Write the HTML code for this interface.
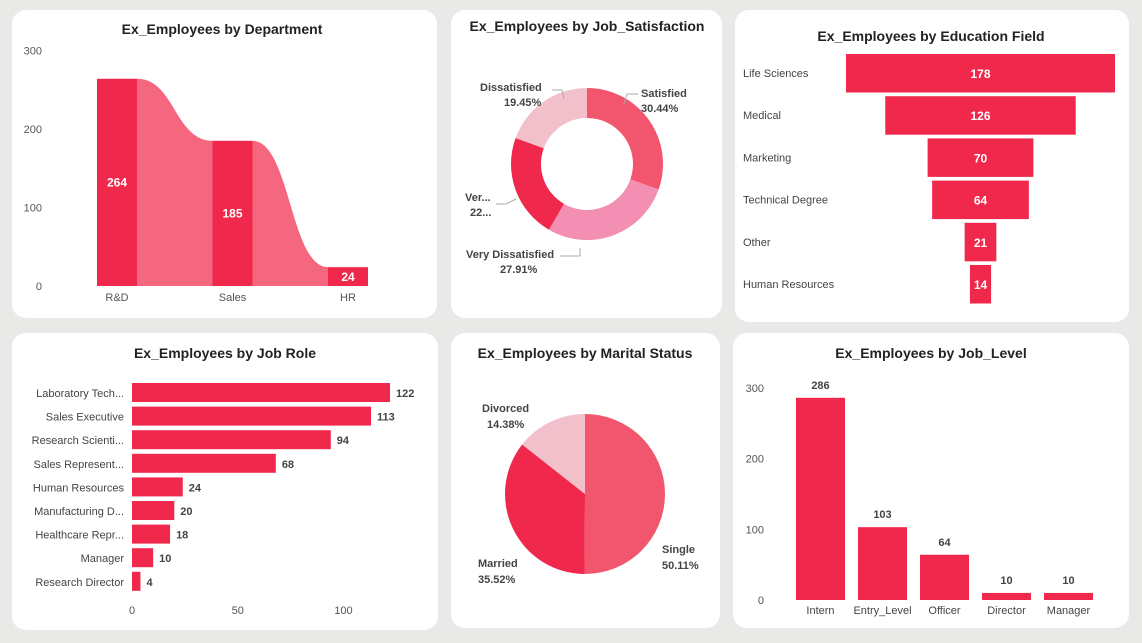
<!DOCTYPE html>
<html><head><meta charset="utf-8"><style>
html,body{margin:0;padding:0;width:1142px;height:643px;overflow:hidden;background:#e9e9e7;}
svg text{font-family:"Liberation Sans",sans-serif;}
.t{font-weight:bold;font-size:14px;fill:#222;text-anchor:middle}
.ax{font-size:11px;fill:#555}
.lb{font-size:11px;fill:#444}
.v{font-size:11px;font-weight:bold;fill:#444}
.w{font-size:12px;font-weight:bold;fill:#fff;text-anchor:middle}
</style></head><body>
<svg id="s" width="1142" height="643" xmlns="http://www.w3.org/2000/svg">
<rect width="1142" height="643" fill="#e9e9e7"/>
<g>
<rect x="12" y="10" width="425" height="308" rx="14" fill="#fff"/>
<rect x="451" y="10" width="271" height="308" rx="14" fill="#fff"/>
<rect x="735" y="10" width="394" height="312" rx="14" fill="#fff"/>
<rect x="12" y="333" width="426" height="297" rx="14" fill="#fff"/>
<rect x="451" y="333" width="269" height="295" rx="14" fill="#fff"/>
<rect x="733" y="333" width="396" height="295" rx="14" fill="#fff"/>
</g>
<text class="t" x="222" y="34">Ex_Employees by Department</text>
<text class="t" x="587" y="31">Ex_Employees by Job_Satisfaction</text>
<text class="t" x="931" y="41">Ex_Employees by Education Field</text>
<text class="t" x="225" y="358">Ex_Employees by Job Role</text>
<text class="t" x="585" y="358">Ex_Employees by Marital Status</text>
<text class="t" x="931" y="358">Ex_Employees by Job_Level</text>
<g id="g"></g>
</svg>
<script>
const deptCats=["R&D","Sales","HR"];
const deptVals=[264,185,24];
const deptTicks=[0,100,200,300];
const satCats=["Satisfied","Very Dissatisfied","Very Satisfied","Dissatisfied"];
const satVals=[30.44,27.91,22.20,19.45];
const eduCats=["Life Sciences","Medical","Marketing","Technical Degree","Other","Human Resources"];
const eduVals=[178,126,70,64,21,14];
const roleCats=["Laboratory Tech...","Sales Executive","Research Scienti...","Sales Represent...","Human Resources","Manufacturing D...","Healthcare Repr...","Manager","Research Director"];
const roleVals=[122,113,94,68,24,20,18,10,4];
const roleTicks=[0,50,100];
const marCats=["Single","Married","Divorced"];
const marVals=[50.11,35.52,14.38];
const lvlCats=["Intern","Entry_Level","Officer","Director","Manager"];
const lvlVals=[286,103,64,10,10];
const lvlTicks=[0,100,200,300];

const NS="http://www.w3.org/2000/svg",G=document.getElementById('g');
function el(t,a,txt){const e=document.createElementNS(NS,t);for(const k in a)e.setAttribute(k,a[k]);if(txt!==undefined)e.textContent=txt;G.appendChild(e);return e;}
const RED="#f0284c";

// Department
const dy=v=>286-v*0.785, dx=i=>97+i*115.5;
deptTicks.forEach(t=>{const e=el('text',{class:'ax',x:42,y:dy(t)+4,'text-anchor':'end'},t);

});
for(let i=0;i<deptVals.length-1;i++){const x1=dx(i)+40,x2=dx(i+1),y1=dy(deptVals[i]),y2=dy(deptVals[i+1]),m=(x1+x2)/2;
const e=el('path',{d:`M${x1},${y1} C${m},${y1} ${m},${y2} ${x2},${y2} L${x2},286 L${x1},286Z`,fill:'#f4677f'});

}
deptVals.forEach((v,i)=>{const b=el('rect',{x:dx(i),y:dy(v),width:40,height:v*0.785,fill:RED});


const vy=v>60?(dy(v)+286)/2+4:dy(v)+14;
const t=el('text',{class:'w',x:dx(i)+20,y:vy},v);


const l=el('text',{class:'ax',x:dx(i)+20,y:301,'text-anchor':'middle'},deptCats[i]);

});

function arc(cx,cy,r,ri,a0,a1){const p=(a,rr)=>[cx+rr*Math.sin(a),cy-rr*Math.cos(a)];const lg=(a1-a0)>Math.PI?1:0;
const [x0,y0]=p(a0,r),[x1,y1]=p(a1,r);
if(ri>0){const [x2,y2]=p(a1,ri),[x3,y3]=p(a0,ri);return `M${x0},${y0}A${r},${r} 0 ${lg} 1 ${x1},${y1}L${x2},${y2}A${ri},${ri} 0 ${lg} 0 ${x3},${y3}Z`;}
return `M${cx},${cy}L${x0},${y0}A${r},${r} 0 ${lg} 1 ${x1},${y1}Z`;}

// Satisfaction donut
const satCol=["#f2566f","#f28fb3",RED,"#f2c0cb"];
let a=0;const satTot=satVals.reduce((s,v)=>s+v,0);
satVals.forEach((v,i)=>{const a1=a+v/satTot*2*Math.PI;const e=el('path',{d:arc(587,164,76,46,a,a1),fill:satCol[i]});

a=a1;});
const satLab=[[641,97,'start',"Satisfied"],[466,258,'start',"Very Dissatisfied"],[465,201,'start',"Ver..."],[480,91,'start',"Dissatisfied"]];
satLab.forEach((L,i)=>{const n=el('text',{class:'v',x:L[0],y:L[1],'text-anchor':L[2]},L[3]);


const pct=i==2?"22...":satVals[i].toFixed(2)+"%";
const px=i==2?470:(i==1?500:(i==3?504:641));
const p=el('text',{class:'v',x:px,y:L[1]+15},pct);

});
[["M638,94 L627,94 L624,104"],["M560,256 L580,256 L580,248"],["M496,204 L506,204 L516,199"],["M552,90 L562,90 L564,99"]].forEach(d=>{const e=el('path',{d:d[0],fill:'none',stroke:'#aaa'});

});

// Education funnel
const eduScale=269/178;
eduVals.forEach((v,i)=>{const y=54+i*42.2,w=v*eduScale;const b=el('rect',{x:980.5-w/2,y:y,width:w,height:38.5,fill:RED});


const t=el('text',{class:'w',x:980.5,y:y+24},v);


const l=el('text',{class:'lb',x:743,y:y+23},eduCats[i]);

});

// Job role
const rx=v=>132+v*2.115;
roleVals.forEach((v,i)=>{const y=383+i*23.6;const b=el('rect',{x:132,y:y,width:rx(v)-132,height:19,fill:RED});


const t=el('text',{class:'v',x:rx(v)+6,y:y+14},v);


const l=el('text',{class:'lb',x:124,y:y+14,'text-anchor':'end'},roleCats[i]);

});
roleTicks.forEach(t=>{const e=el('text',{class:'ax',x:rx(t),y:614,'text-anchor':'middle'},t);

});

// Marital pie
const marCol=["#f2566f",RED,"#f2c0cb"];a=0;const marTot=marVals.reduce((s,v)=>s+v,0);
marVals.forEach((v,i)=>{const a1=a+v/marTot*2*Math.PI;const e=el('path',{d:arc(585,494,80,0,a,a1),fill:marCol[i]});

a=a1;});
const marLab=[[662,553,'start'],[478,567,'start'],[482,412,'start']];
marLab.forEach((L,i)=>{const n=el('text',{class:'v',x:L[0],y:L[1]},marCats[i]);


const p=el('text',{class:'v',x:i==0?662:(i==1?478:487),y:L[1]+16},marVals[i].toFixed(2)+"%");

});

// Job level
const ly=v=>600-v*0.707,lx=i=>796+i*62;
lvlTicks.forEach(t=>{const e=el('text',{class:'ax',x:764,y:ly(t)+4,'text-anchor':'end'},t);

});
lvlVals.forEach((v,i)=>{const b=el('rect',{x:lx(i),y:ly(v),width:49,height:v*0.707,fill:RED});


const t=el('text',{class:'v',x:lx(i)+24.5,y:ly(v)-9,'text-anchor':'middle'},v);


const l=el('text',{class:'lb',x:lx(i)+24.5,y:614,'text-anchor':'middle','font-size':'10'},lvlCats[i]);

});
</script>
</body></html>
